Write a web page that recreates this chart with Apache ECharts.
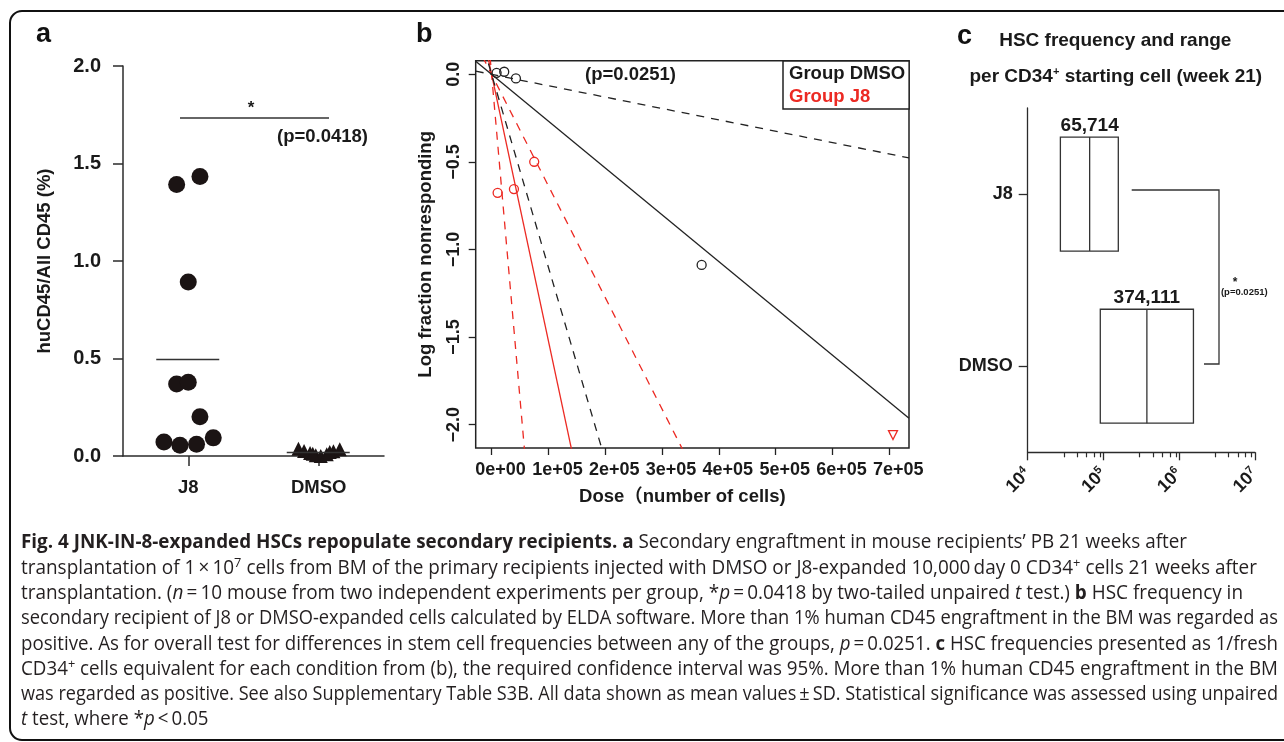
<!DOCTYPE html>
<html><head><meta charset="utf-8">
<script src="https://cdn.jsdelivr.net/npm/echarts@6/dist/echarts.min.js"></script>
<style>
html,body{margin:0;padding:0;background:#fff;}
#chart{position:absolute;left:0;top:0;width:1284px;height:742px;}
#cap{position:absolute;left:21px;top:528.4px;font-family:"Open Sans","Noto Sans",sans-serif;font-size:19.5px;line-height:25.3px;color:#231f20;}
#cap .ln{white-space:nowrap;height:25.3px;}
#cap .ln span.t{display:inline-block;transform-origin:0 50%;}
#cap sup{font-size:0.68em;vertical-align:0.5em;line-height:0;}
</style></head><body>
<div id="chart"></div>
<div id="cap"></div>
<script>
// ---------------- DATA ----------------
// Panel a: huCD45/All CD45 (%)
const aCategories = ['J8', 'DMSO'];
const aJ8Values = [1.392, 1.433, 0.892, 0.369, 0.378, 0.201, 0.072, 0.055, 0.060, 0.093];
const aDMSOValues = [0.037, 0.026, 0.015, 0.004, 0.000, 0.009, 0.024, 0.034, 0.012, 0.020];
const aYTicks = [0, 0.5, 1.0, 1.5, 2.0];

// Panel b: ELDA plot points
const bDMSODose = [8800, 22200, 42800, 369700];
const bDMSOLogFrac = [0.009, 0.015, -0.023, -1.088];
const bJ8Dose = [10600, 39300, 75000, 706500];
const bJ8LogFrac = [-0.676, -0.655, -0.499, -2.059];
const bXTicks = [0, 100000, 200000, 300000, 400000, 500000, 600000, 700000];
const bYTicks = [-2.0, -1.5, -1.0, -0.5, 0.0];

// HSC frequency (1 in N) with 95% CI, used by panels b and c
const groups = ['J8', 'DMSO'];
const hscEstimate = [65714, 374111];
const hscLower = [27000, 90800];
const hscUpper = [157000, 1540000];
const cXTicks = [1e4, 1e5, 1e6, 1e7];
const cMinorTicks = [3e4, 4.5e4, 6e4, 7.5e4, 9e4, 3e5, 4.5e5, 6e5, 7.5e5, 9e5, 3e6, 4.5e6, 6e6, 7.5e6, 9e6];

// ---------------- STYLE ----------------
const FF = '"Liberation Sans", Arial, Helvetica, sans-serif';
const TXT = '#1a1a1a';
const AX = '#2b2b2b';
const RED = '#ec2a23';
const aJ8Jitter = [-11.6, 11.7, 0, -11.6, 0, 11.7, -24.3, -8.3, 8.3, 25];
const aDMSOJitter = [-20.3, -14.7, -8.7, -3, 2, 8, 14.7, 21, -6, 11];
const bXRange = [-28000, 734700];
const bYRange = [-2.133, 0.078];

const mean = arr => arr.reduce((s, v) => s + v, 0) / arr.length;
function sci(v) {
  if (v === 0) return '0e+00';
  const e = Math.floor(Math.log10(v) + 1e-9);
  const m = Math.round(v / Math.pow(10, e));
  return m + 'e+' + String(e).padStart(2, '0');
}

const chart = echarts.init(document.getElementById('chart'), null, {renderer: 'canvas'});

// ELDA lines: log fraction nonresponding = -dose / N
const bLineSeries = [];
groups.forEach((g, gi) => {
  const color = g === 'J8' ? RED : '#222';
  [[hscEstimate[gi], 'solid'], [hscLower[gi], [8, 7]], [hscUpper[gi], [8, 7]]].forEach(([n, type]) => {
    bLineSeries.push({
      type: 'line', xAxisIndex: 1, yAxisIndex: 1, symbol: 'none', silent: true,
      name: 'line ' + g, clip: true,
      data: [[bXRange[0], -bXRange[0] / n], [bXRange[1], -bXRange[1] / n]],
      lineStyle: {color: color, width: 1.3, type: type},
      z: 2
    });
  });
});

const option = {
  animation: false,
  backgroundColor: '#fff',
  textStyle: {fontFamily: FF},
  grid: [
    {left: 123, top: 66, width: 261, height: 390, outerBoundsMode: 'none'},
    {left: 475.7, top: 60.7, width: 433.3, height: 387.3, show: true, borderColor: '#222', borderWidth: 1.5, backgroundColor: 'transparent', outerBoundsMode: 'none'},
    {left: 1027.7, top: 108, width: 227.3, height: 344.3, outerBoundsMode: 'none'}
  ],
  legend: {
    left: 783, top: 61, orient: 'vertical', itemWidth: 0, itemHeight: 0, itemGap: 1,
    padding: [1.5, 4, 1.5, 0], borderColor: '#222', borderWidth: 1.5, backgroundColor: '#fff',
    selectedMode: false,
    textStyle: {fontFamily: FF, fontWeight: 'bold', fontSize: 18.5, lineHeight: 22},
    data: [
      {name: 'Group DMSO', icon: 'rect', textStyle: {color: TXT}},
      {name: 'Group J8', icon: 'rect', textStyle: {color: RED}}
    ]
  },
  xAxis: [
    { // panel a
      type: 'category', gridIndex: 0, data: aCategories,
      axisLine: {show: true, onZero: false, lineStyle: {color: AX, width: 1.5}},
      axisTick: {show: true, alignWithLabel: true, length: 10, lineStyle: {color: AX, width: 1.5}},
      axisLabel: {margin: 22, color: TXT, fontWeight: 'bold', fontSize: 18.5, fontFamily: FF},
      splitLine: {show: false}
    },
    { // panel b
      type: 'value', gridIndex: 1, min: bXRange[0], max: bXRange[1],
      axisLine: {show: false, onZero: false},
      axisTick: {show: true, customValues: bXTicks, length: 7, lineStyle: {color: '#222', width: 1.3}},
      axisLabel: {customValues: bXTicks, formatter: sci, margin: 13, padding: [0, 0, 0, 18], color: TXT, fontWeight: 'bold', fontSize: 18, fontFamily: FF},
      splitLine: {show: false},
      name: 'Dose\uFF08number of cells)', nameLocation: 'middle', nameGap: 40,
      nameTextStyle: {color: TXT, fontWeight: 'bold', fontSize: 18.5, padding: [0, 20, 0, 0], fontFamily: FF + ', "Noto Sans CJK SC"'}
    },
    { // panel c major
      type: 'log', logBase: 10, gridIndex: 2, min: 1e4, max: 1e7, position: 'bottom',
      axisLine: {show: true, onZero: false, lineStyle: {color: AX, width: 1.3}},
      axisTick: {show: true, customValues: cXTicks, length: 8, lineStyle: {color: AX, width: 1.3}},
      axisLabel: {
        customValues: cXTicks, rotate: 45, margin: 19,
        formatter: v => '{b|10}{s|' + Math.round(Math.log10(v)) + '}',
        rich: {
          b: {fontFamily: FF, fontWeight: 'bold', fontSize: 18, color: TXT, lineHeight: 20},
          s: {fontFamily: FF, fontWeight: 'bold', fontSize: 11, color: TXT, verticalAlign: 'top', lineHeight: 12}
        }
      },
      splitLine: {show: false}
    },
    { // panel c minor ticks
      type: 'log', logBase: 10, gridIndex: 2, min: 1e4, max: 1e7, position: 'bottom',
      axisLine: {show: false, onZero: false},
      axisTick: {show: true, customValues: cMinorTicks, length: 5, lineStyle: {color: AX, width: 1.2}},
      axisLabel: {show: false},
      splitLine: {show: false}
    }
  ],
  yAxis: [
    { // panel a
      type: 'value', gridIndex: 0, min: 0, max: 2, interval: 0.5,
      axisLine: {show: true, onZero: false, lineStyle: {color: AX, width: 1.5}},
      axisTick: {show: true, customValues: aYTicks, length: 10, lineStyle: {color: AX, width: 1.5}},
      axisLabel: {customValues: aYTicks, formatter: v => v.toFixed(1), margin: 22, color: TXT, fontWeight: 'bold', fontSize: 20, fontFamily: FF},
      splitLine: {show: false},
      name: 'huCD45/All CD45 (%)', nameLocation: 'middle', nameRotate: 90, nameGap: 69,
      nameTextStyle: {color: TXT, fontWeight: 'bold', fontSize: 18.5, fontFamily: FF}
    },
    { // panel b
      type: 'value', gridIndex: 1, min: bYRange[0], max: bYRange[1],
      axisLine: {show: false, onZero: false},
      axisTick: {show: true, customValues: bYTicks, length: 7, lineStyle: {color: '#222', width: 1.3}},
      axisLabel: {customValues: bYTicks, rotate: 90, margin: 13,
        formatter: v => (Math.abs(v) < 1e-9 ? '0.0' : v.toFixed(1).replace('-', '\u2212')),
        color: TXT, fontWeight: 'bold', fontSize: 18, fontFamily: FF},
      splitLine: {show: false},
      name: 'Log fraction nonresponding', nameLocation: 'middle', nameRotate: 90, nameGap: 40,
      nameTextStyle: {color: TXT, fontWeight: 'bold', fontSize: 18.5, fontFamily: FF}
    },
    { // panel c
      type: 'category', gridIndex: 2, data: groups, inverse: true,
      axisLine: {show: true, onZero: false, lineStyle: {color: AX, width: 1.3}},
      axisTick: {show: true, alignWithLabel: true, length: 9, lineStyle: {color: AX, width: 1.3}},
      axisLabel: {margin: 15, color: TXT, fontWeight: 'bold', fontSize: 18, fontFamily: FF},
      splitLine: {show: false}
    }
  ],
  series: [
    // ---- panel a ----
    {
      type: 'scatter', name: 'J8 a', xAxisIndex: 0, yAxisIndex: 0, symbol: 'circle', symbolSize: 17,
      itemStyle: {color: '#1b1414', opacity: 1},
      data: aJ8Values.map((v, i) => ({value: [0, v], symbolOffset: [aJ8Jitter[i], 0]})),
      z: 3
    },
    {
      type: 'scatter', name: 'DMSO a', xAxisIndex: 0, yAxisIndex: 0, symbol: 'triangle', symbolSize: 14,
      itemStyle: {color: '#1b1414', opacity: 1},
      data: aDMSOValues.map((v, i) => ({value: [1, v], symbolOffset: [aDMSOJitter[i], 0]})),
      z: 3
    },
    {
      type: 'custom', name: 'mean a', xAxisIndex: 0, yAxisIndex: 0, silent: true, z: 4,
      data: [[0, mean(aJ8Values)], [1, mean(aDMSOValues)]],
      renderItem: (params, api) => {
        const p = api.coord([api.value(0), api.value(1)]);
        return {type: 'line', shape: {x1: p[0] - 32, y1: p[1], x2: p[0] + 31, y2: p[1]},
          style: {stroke: '#333', lineWidth: 1.5}};
      }
    },
    // ---- panel b ----
    ...bLineSeries,
    {
      type: 'scatter', name: 'Group DMSO', xAxisIndex: 1, yAxisIndex: 1, symbol: 'circle', symbolSize: 9,
      itemStyle: {color: 'rgba(0,0,0,0)', borderColor: '#222', borderWidth: 1.3, opacity: 1},
      data: bDMSODose.map((d, i) => [d, bDMSOLogFrac[i]]), z: 5
    },
    {
      type: 'scatter', name: 'Group J8', xAxisIndex: 1, yAxisIndex: 1, symbol: 'circle', symbolSize: 9,
      itemStyle: {color: 'rgba(0,0,0,0)', borderColor: RED, borderWidth: 1.3, opacity: 1},
      data: bJ8Dose.map((d, i) => (i === bJ8Dose.length - 1
        ? {value: [d, bJ8LogFrac[i]], symbol: 'triangle', symbolRotate: 180, symbolSize: 9}
        : [d, bJ8LogFrac[i]])), z: 5
    },
    // ---- panel c ----
    {
      type: 'custom', name: 'hsc c', xAxisIndex: 2, yAxisIndex: 2, silent: true, z: 3,
      encode: {x: [0, 1, 2], y: 3},
      data: groups.map((g, i) => [hscLower[i], hscEstimate[i], hscUpper[i], i]),
      renderItem: (params, api) => {
        const cat = api.value(3);
        const pL = api.coord([api.value(0), cat]);
        const pM = api.coord([api.value(1), cat]);
        const pU = api.coord([api.value(2), cat]);
        const band = Math.abs(api.coord([api.value(1), 1])[1] - api.coord([api.value(1), 0])[1]);
        const h = band * 0.662;
        const top = pM[1] - h / 2;
        const st = {stroke: '#333', lineWidth: 1.3, fill: 'none'};
        return {type: 'group', children: [
          {type: 'rect', shape: {x: pL[0], y: top, width: pU[0] - pL[0], height: h}, style: st},
          {type: 'line', shape: {x1: pM[0], y1: top, x2: pM[0], y2: top + h}, style: {stroke: '#333', lineWidth: 1.3}},
          {type: 'text', style: {text: Math.round(api.value(1)).toLocaleString('en-US'), x: pM[0], y: top - 1.5,
            align: 'center', verticalAlign: 'bottom', fontFamily: FF, fontWeight: 'bold', fontSize: 19, fill: TXT}}
        ]};
      }
    }
  ],
  graphic: [
    {type: 'rect', shape: {x: 10, y: 11, width: 1290, height: 729, r: 12}, style: {fill: 'none', stroke: '#111', lineWidth: 2}, z: 100, silent: true},
    // panel letters
    {type: 'text', style: {text: 'a', x: 36, y: 35, verticalAlign: 'middle', fontFamily: FF, fontWeight: 'bold', fontSize: 27, fill: '#111'}},
    {type: 'text', style: {text: 'b', x: 416, y: 34.5, verticalAlign: 'middle', fontFamily: FF, fontWeight: 'bold', fontSize: 27, fill: '#111'}},
    {type: 'text', style: {text: 'c', x: 957, y: 37, verticalAlign: 'middle', fontFamily: FF, fontWeight: 'bold', fontSize: 27, fill: '#111'}},
    // panel a significance
    {type: 'line', shape: {x1: 180, y1: 118, x2: 329, y2: 118}, style: {stroke: '#333', lineWidth: 1.3}},
    {type: 'text', style: {text: '*', x: 251, y: 108, align: 'center', verticalAlign: 'middle', fontFamily: FF, fontWeight: 'bold', fontSize: 17, fill: TXT}},
    {type: 'text', style: {text: '(p=0.0418)', x: 322.5, y: 137, align: 'center', verticalAlign: 'middle', fontFamily: FF, fontWeight: 'bold', fontSize: 18.5, fill: TXT}},
    // panel b p value
    {type: 'text', style: {text: '(p=0.0251)', x: 630.5, y: 75, align: 'center', verticalAlign: 'middle', fontFamily: FF, fontWeight: 'bold', fontSize: 18.5, fill: TXT}},
    // panel c titles
    {type: 'text', style: {text: 'HSC frequency and range', x: 1115.3, y: 41, align: 'center', verticalAlign: 'middle', fontFamily: FF, fontWeight: 'bold', fontSize: 19, fill: TXT}},
    {type: 'text', style: {
      text: '{t|per CD34}{s|+}{t| starting cell (week 21)}', x: 1115.8, y: 77, align: 'center', verticalAlign: 'middle',
      rich: {t: {fontFamily: FF, fontWeight: 'bold', fontSize: 19, fill: TXT, lineHeight: 22},
             s: {fontFamily: FF, fontWeight: 'bold', fontSize: 11, fill: TXT, verticalAlign: 'top', lineHeight: 22, padding: [0, 0, 8, 0]}}
    }},
    // panel c bracket
    {type: 'polyline', shape: {points: [[1131.7, 190], [1219, 190], [1219, 364], [1204, 364]]}, style: {stroke: '#333', lineWidth: 1.3, fill: 'none'}},
    {type: 'text', style: {text: '*', x: 1235, y: 283, align: 'center', verticalAlign: 'middle', fontFamily: FF, fontWeight: 'bold', fontSize: 12, fill: TXT}},
    {type: 'text', style: {text: '(p=0.0251)', x: 1244.3, y: 292.5, align: 'center', verticalAlign: 'middle', fontFamily: FF, fontWeight: 'bold', fontSize: 9.5, fill: TXT}}
  ]
};
chart.setOption(option);

// ---------------- CAPTION ----------------
const capLines = [
  '<b>Fig. 4 JNK-IN-8-expanded HSCs repopulate secondary recipients. a</b> Secondary engraftment in mouse recipients\u2019 PB 21 weeks after',
  'transplantation of 1\u2009\u00d7\u200910<sup>7</sup> cells from BM of the primary recipients injected with DMSO or J8-expanded 10,000\u2009day 0 CD34<sup>+</sup> cells 21 weeks after',
  'transplantation. (<i>n</i>\u2009=\u200910 mouse from two independent experiments per group, *<i>p</i>\u2009=\u20090.0418 by two-tailed unpaired <i>t</i> test.) <b>b</b> HSC frequency in',
  'secondary recipient of J8 or DMSO-expanded cells calculated by ELDA software. More than 1% human CD45 engraftment in the BM was regarded as',
  'positive. As for overall test for differences in stem cell frequencies between any of the groups, <i>p</i>\u2009=\u20090.0251. <b>c</b> HSC frequencies presented as 1/fresh',
  'CD34<sup>+</sup> cells equivalent for each condition from (b), the required confidence interval was 95%. More than 1% human CD45 engraftment in the BM',
  'was regarded as positive. See also Supplementary Table S3B. All data shown as mean values\u2009\u00b1\u2009SD. Statistical significance was assessed using unpaired',
  '<i>t</i> test, where *<i>p</i>\u2009&lt;\u20090.05'
];
const capEnds = [1187, 1257, 1243, 1278, 1278, 1278, 1278, null];
const capEl = document.getElementById('cap');
capEl.innerHTML = capLines.map(h => '<div class="ln"><span class="t">' + h + '</span></div>').join('');
const spans = capEl.querySelectorAll('.ln span.t');
const scales = [];
spans.forEach((s, i) => {
  const w = s.getBoundingClientRect().width;
  if (capEnds[i]) {
    const sc = (capEnds[i] - 21) / w;
    scales.push(sc);
    s.style.transform = 'scaleX(' + sc + ')';
  }
});
const avg = scales.reduce((a, b) => a + b, 0) / scales.length;
spans.forEach((s, i) => { if (!capEnds[i]) s.style.transform = 'scaleX(' + avg + ')'; });
</script>
</body></html>
